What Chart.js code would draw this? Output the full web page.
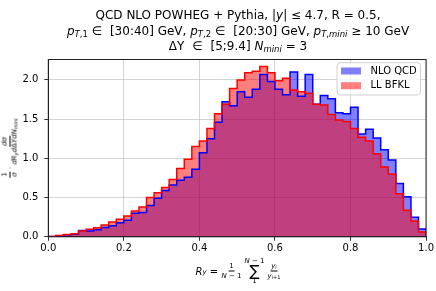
<!DOCTYPE html>
<html>
<head>
<meta charset="utf-8">
<script src="https://cdn.jsdelivr.net/npm/chart.js@4.4.1/dist/chart.umd.min.js"></script>
<style>
body{margin:0;background:#fff;}
#wrap{position:relative;width:436px;height:291px;font-family:"DejaVu Sans",sans-serif;color:#000;overflow:hidden;}
#wrap canvas{position:absolute;left:0;top:0;}
.ttl{position:absolute;left:0;width:476px;text-align:center;font-size:12px;white-space:nowrap;line-height:15px;}
.ttl sub{font-size:8.5px;vertical-align:-2px;line-height:0;}
.frac{display:inline-flex;flex-direction:column;align-items:center;vertical-align:middle;line-height:1;}
.frac>span:first-child{border-bottom:0.7px solid #000;padding:0 1px 1px 1px;}
.frac>span:last-child{padding-top:1px;}
#ylab{position:absolute;left:10px;top:148px;transform:translate(-50%,-50%) rotate(-90deg);white-space:nowrap;font-size:7px;display:flex;align-items:center;}
#ylab sub{font-size:5px;vertical-align:-1px;line-height:0;}
#xlab{position:absolute;left:238px;top:271px;transform:translate(-50%,-50%);white-space:nowrap;display:flex;align-items:center;font-size:10px;}
#xlab sub{font-size:7px;vertical-align:-2px;line-height:0;}
#xlab .frac{font-size:7px;}
#xlab .frac sub{font-size:5px;vertical-align:-1px;}
.sum{display:inline-flex;flex-direction:column;align-items:center;line-height:1;margin:0 3px;}
.sum .big{font-size:15px;line-height:13px;}
.sum .lim{font-size:7px;}
.sp{display:inline-block;width:4px;}
</style>
</head>
<body>
<div id="wrap">
<canvas id="chart1" width="436" height="291"></canvas>
<div class="ttl" style="top:8px">QCD NLO POWHEG + Pythia, |<i>y</i>| ≤ 4.7, R = 0.5,</div>
<div class="ttl" style="top:24px"><i>p</i><sub><i>T</i>,1</sub> ∈<span class="sp"></span> [30:40] GeV, <i>p</i><sub><i>T</i>,2</sub> ∈<span class="sp"></span> [20:30] GeV, <i>p</i><sub><i>T</i>,<i>mini</i></sub> ≥ 10 GeV</div>
<div class="ttl" style="top:39px">ΔY <span class="sp"></span>∈<span class="sp"></span> [5;9.4] <i>N</i><sub><i>mini</i></sub> = 3</div>
<div id="ylab"><span class="frac"><span>1</span><span><i>σ</i></span></span>&nbsp;·&nbsp;<span class="frac"><span><i>dσ</i></span><span><i>dR</i><sub><i>y</i></sub><i>d</i>Δ<i>YdN</i><sub><i>mini</i></sub></span></span></div>
<div id="xlab"><i>R</i><sub><i>y</i></sub>&nbsp;=&nbsp;<span class="frac"><span>1</span><span><i>N</i> − 1</span></span><span class="sum"><span class="lim"><i>N</i> − 1</span><span class="big">∑</span><span class="lim">1</span></span><span class="frac"><span><i>y</i><sub><i>i</i></sub></span><span><i>y</i><sub><i>i</i>+1</sub></span></span></div>
</div>
<script>
// bin edges of the R_y histogram (50 bins)
var binEdges = [0.00,0.02,0.04,0.06,0.08,0.10,0.12,0.14,0.16,0.18,
                0.20,0.22,0.24,0.26,0.28,0.30,0.32,0.34,0.36,0.38,
                0.40,0.42,0.44,0.46,0.48,0.50,0.52,0.54,0.56,0.58,
                0.60,0.62,0.64,0.66,0.68,0.70,0.72,0.74,0.76,0.78,
                0.80,0.82,0.84,0.86,0.88,0.90,0.92,0.94,0.96,0.98,1.00];

var nloQcd = [0.003,0.01,0.025,0.035,0.08,0.075,0.09,0.12,0.14,0.18,
              0.21,0.30,0.31,0.40,0.49,0.59,0.66,0.72,0.76,0.86,
              1.07,1.25,1.46,1.72,1.67,1.85,1.78,1.88,2.07,1.98,
              1.88,1.81,2.10,1.79,2.07,1.69,1.80,1.76,1.58,1.57,
              1.65,1.31,1.37,1.26,1.11,0.98,0.68,0.51,0.25,0.10];

var llBfkl = [0.005,0.015,0.03,0.04,0.075,0.095,0.115,0.15,0.19,0.225,
              0.265,0.33,0.38,0.50,0.56,0.63,0.73,0.87,0.99,1.15,
              1.22,1.38,1.57,1.69,1.89,2.00,2.09,2.11,2.17,2.09,
              1.99,2.02,1.87,1.85,1.83,1.69,1.68,1.56,1.49,1.47,
              1.38,1.27,1.22,1.06,0.89,0.80,0.55,0.34,0.20,0.06];

var seriesNames = ["NLO QCD","LL BFKL"];
var xTicks = [0.0,0.2,0.4,0.6,0.8,1.0];
var yTicks = [0.0,0.5,1.0,1.5,2.0];

function stepPoints(vals){
	var pts = vals.map(function(v,i){ return {x:binEdges[i], y:v}; });
	pts.push({x:binEdges[vals.length], y:0});
	return pts;
}

var insideLegend = {
	id:'insideLegend',
	afterDraw: function(chart){
		var ctx = chart.ctx, a = chart.chartArea;
		var w = 83.4, h = 32.3;
		var x = a.right - 5.6 - w, y = a.top + 3.2;
		ctx.save();
		ctx.beginPath();
		ctx.roundRect(x, y, w, h, 3);
		ctx.fillStyle = 'rgba(255,255,255,0.8)';
		ctx.fill();
		ctx.strokeStyle = '#d0d0d0';
		ctx.lineWidth = 1;
		ctx.stroke();
		var cols = ['rgba(0,0,255,0.5)','rgba(255,0,0,0.5)'];
		ctx.font = '10px "DejaVu Sans"';
		ctx.textBaseline = 'middle';
		for (var i=0;i<2;i++){
			var cy = y + 8.3 + i*14.7;
			ctx.fillStyle = cols[i];
			ctx.fillRect(x + 4, cy - 3.5, 20, 7);
			ctx.fillStyle = '#000';
			ctx.fillText(seriesNames[i], x + 33.4, cy);
		}
		ctx.restore();
	}
};

var frameBox = {
	id:'frameBox',
	afterDraw: function(chart){
		var ctx = chart.ctx, a = chart.chartArea;
		ctx.save();
		ctx.strokeStyle = '#222';
		ctx.lineWidth = 1;
		ctx.strokeRect(a.left, a.top, a.right - a.left, a.bottom - a.top);
		ctx.restore();
	}
};

function init(){
	var tickFont = {family:'DejaVu Sans', size:10};
	var gridCol = 'rgba(176,176,176,0.55)';
	var datos = {
		type:'line',
		data:{
			datasets:[
				{label:seriesNames[0], data:stepPoints(nloQcd), stepped:true, fill:'origin',
				 backgroundColor:'rgba(0,0,255,0.5)', borderColor:'rgba(0,0,0,0)', borderWidth:1, pointRadius:0, order:4},
				{label:seriesNames[1], data:stepPoints(llBfkl), stepped:true, fill:'origin',
				 backgroundColor:'rgba(255,0,0,0.5)', borderColor:'rgba(0,0,0,0)', borderWidth:1, pointRadius:0, order:3},
				{label:seriesNames[0]+' edge', data:stepPoints(nloQcd), stepped:true, fill:false,
				 borderColor:'#0000ff', borderWidth:1.5, pointRadius:0, order:2},
				{label:seriesNames[1]+' edge', data:stepPoints(llBfkl), stepped:true, fill:false,
				 borderColor:'#ff0000', borderWidth:1.5, pointRadius:0, order:1}
			]
		},
		options:{
			responsive:false,
			animation:false,
			layout:{padding:{left:8.3, right:7.7, top:59.5, bottom:34.2}},
			plugins:{legend:{display:false}, title:{display:false}, tooltip:{enabled:false}},
			scales:{
				x:{
					type:'linear', min:0, max:1, z:1,
					afterBuildTicks:function(s){ s.ticks = xTicks.map(function(v){ return {value:v}; }); },
					afterFit:function(s){ s.height = 20; },
					ticks:{font:tickFont, color:'#000', padding:2, maxRotation:0,
						callback:function(v){ return Number(v).toFixed(1); }},
					grid:{color:gridCol, tickColor:'#333', tickLength:4, lineWidth:1},
					border:{display:true, color:'#222', width:1}
				},
				y:{
					type:'linear', min:0, max:2.26, z:1,
					afterBuildTicks:function(s){ s.ticks = yTicks.map(function(v){ return {value:v}; }); },
					afterFit:function(s){ s.width = 40; },
					ticks:{font:tickFont, color:'#000', padding:6,
						callback:function(v){ return Number(v).toFixed(1); }},
					grid:{color:gridCol, tickColor:'#333', tickLength:4, lineWidth:1},
					border:{display:true, color:'#222', width:1}
				}
			}
		},
		plugins:[insideLegend, frameBox]
	};
	var canvas = document.getElementById('chart1').getContext('2d');
	window.histo = new Chart(canvas, datos);
}

init();
</script>
</body>
</html>
